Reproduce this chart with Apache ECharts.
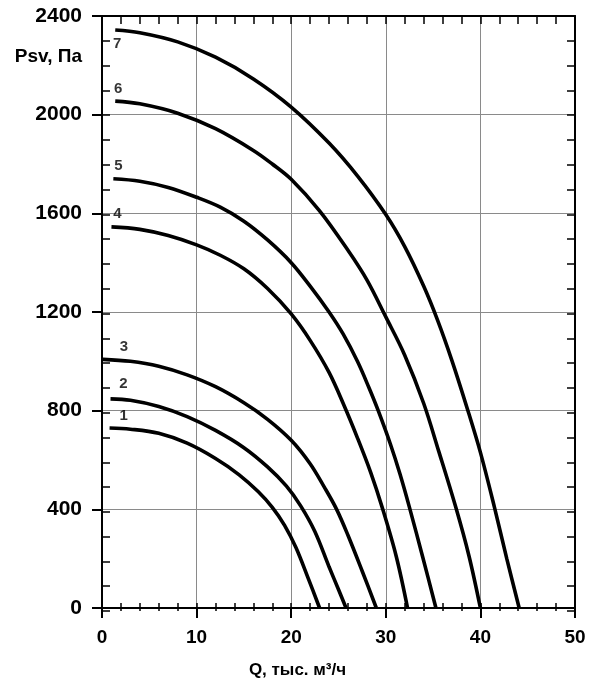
<!DOCTYPE html>
<html>
<head>
<meta charset="utf-8">
<script src="https://cdn.jsdelivr.net/npm/echarts@6/dist/echarts.min.js"></script>
<style>
html,body{margin:0;padding:0;background:#fff;}
#chart{width:603px;height:684px;}
</style>
</head>
<body>
<div id="chart"></div>
<script>
// Curve names
const curveNames = ['1', '2', '3', '4', '5', '6', '7'];
// Q, thousand m3/h  /  Psv, Pa
const curve1 = [[0.8,730],[3,725],[6,708],[9,668],[12,606],[14.5,540],[16.5,472],[18,408],[19.3,335],[20.5,245],[21.8,120],[23,0]];
const curve2 = [[0.9,848],[3,842],[6,817],[9,776],[12,720],[15,650],[17.5,572],[19.5,494],[21,414],[22.5,310],[24,167],[25,75],[25.8,0]];
const curve3 = [[0.1,1008],[3,1000],[6,980],[9,945],[12,897],[15,832],[17.5,765],[20,680],[22,585],[23.5,490],[24.8,400],[26,295],[27.5,150],[29,0]];
const curve4 = [[1.0,1545],[4,1535],[7,1510],[10,1472],[12.5,1430],[15,1375],[17.5,1295],[20,1192],[22,1085],[24,955],[25.6,820],[27,690],[28.4,550],[29.6,410],[31.1,210],[32.3,0]];
const curve5 = [[1.2,1740],[4,1730],[7,1705],[10,1665],[12.5,1625],[15,1568],[17.5,1492],[20,1400],[22,1305],[24,1200],[25.5,1110],[27,1000],[28.2,895],[29.2,800],[30.5,663],[31.5,543],[32.5,408],[33.9,207],[35.3,0]];
const curve6 = [[1.4,2055],[4,2044],[8,2006],[12,1943],[16,1855],[18,1800],[20,1738],[23,1610],[26,1450],[28,1330],[30,1180],[32,1025],[34,830],[35.6,635],[37.4,408],[38.8,210],[40,0]];
const curve7 = [[1.4,2343],[4,2332],[8,2295],[12,2233],[16,2145],[20,2031],[24,1885],[27,1752],[30,1595],[32,1465],[34,1305],[35.5,1164],[37,1002],[38.6,810],[40,631],[41.5,406],[42.8,198],[44.1,0]];
const curves = [curve1, curve2, curve3, curve4, curve5, curve6, curve7];
// Axis ticks
const xTicks = [0, 10, 20, 30, 40, 50];
const yTicks = [0, 400, 800, 1200, 1600, 2000, 2400];
const xTitle = 'Q, тыс. м³/ч';
const yTitle = 'Psv, Па';

// label offsets (style only)
const labelOffsets = [[14,-12],[13,-15],[21,-13],[6,-13],[5,-13],[3,-12],[2,14]];

const chart = echarts.init(document.getElementById('chart'), null, {renderer:'canvas'});
const FONT = '"Liberation Sans", Arial, sans-serif';
const gridBox = {left:102, right:28, top:16, bottom:73};

const black = '#000';
const gridGray = '#8a8a8a';

const option = {
  backgroundColor:'#fff',
  animation:false,
  grid:[Object.assign({containLabel:false}, gridBox), Object.assign({containLabel:false}, gridBox)],
  xAxis:[
    {
      type:'value', gridIndex:0, position:'bottom',
      min:xTicks[0], max:xTicks[xTicks.length-1], interval:xTicks[1]-xTicks[0],
      axisLine:{show:true, onZero:false, lineStyle:{color:black, width:2}},
      axisTick:{show:true, inside:false, length:10, lineStyle:{color:black, width:2}},
      axisLabel:{show:true, margin:20, color:black, fontFamily:FONT, fontWeight:'bold', fontSize:19,
        formatter:(v)=>String(v)},
      splitLine:{show:true, lineStyle:{color:gridGray, width:1}},
      name:xTitle, nameLocation:'middle', nameGap:54,
      nameTextStyle:{color:black, fontFamily:FONT, fontWeight:'bold', fontSize:17, padding:[0,82,0,0]}
    },
    {
      type:'value', gridIndex:1, position:'bottom',
      min:0, max:50, interval:2,
      axisLine:{show:false, onZero:false},
      axisTick:{show:true, inside:true, length:8, lineStyle:{color:black, width:1.5}},
      axisLabel:{show:false}, splitLine:{show:false}
    },
    {
      type:'value', gridIndex:1, position:'top',
      min:0, max:50, interval:2,
      axisLine:{show:true, onZero:false, lineStyle:{color:black, width:2}},
      axisTick:{show:true, inside:true, length:8, lineStyle:{color:black, width:1.5}},
      axisLabel:{show:false}, splitLine:{show:false}
    }
  ],
  yAxis:[
    {
      type:'value', gridIndex:0, position:'left',
      min:yTicks[0], max:yTicks[yTicks.length-1], interval:yTicks[1]-yTicks[0],
      axisLine:{show:true, onZero:false, lineStyle:{color:black, width:2}},
      axisTick:{show:true, inside:false, length:10, lineStyle:{color:black, width:2}},
      axisLabel:{show:true, margin:20, color:black, fontFamily:FONT, fontWeight:'bold', fontSize:21,
        formatter:(v)=>String(v)},
      splitLine:{show:true, lineStyle:{color:gridGray, width:1}},
      name:yTitle, nameLocation:'end', nameGap:-41,
      nameTextStyle:{color:black, fontFamily:FONT, fontWeight:'bold', fontSize:19, align:'right', verticalAlign:'middle', padding:[0,20,0,0]}
    },
    {
      type:'value', gridIndex:1, position:'left',
      min:0, max:2400, interval:100,
      axisLine:{show:false, onZero:false},
      axisTick:{show:true, inside:true, length:8, lineStyle:{color:black, width:1.5}},
      axisLabel:{show:false}, splitLine:{show:false}
    },
    {
      type:'value', gridIndex:1, position:'right',
      min:0, max:2400, interval:100,
      axisLine:{show:true, onZero:false, lineStyle:{color:black, width:2}},
      axisTick:{show:true, inside:true, length:8, lineStyle:{color:black, width:1.5}},
      axisLabel:{show:false}, splitLine:{show:false}
    }
  ],
  series: curves.map((c, i) => ({
    type:'line', name:curveNames[i], xAxisIndex:0, yAxisIndex:0,
    data:c, showSymbol:false, smooth:0.35,
    lineStyle:{color:black, width:3.6, cap:'butt'},
    z:3
  })).concat([{
    type:'scatter', xAxisIndex:0, yAxisIndex:0, symbolSize:0, silent:true, z:4,
    data: curves.map((c, i) => ({
      value:c[0],
      label:{show:true, formatter:curveNames[i], position:'inside', offset:labelOffsets[i],
        color:black, fontFamily:FONT, fontWeight:'bold', fontSize:15}
    }))
  }])
};
chart.setOption(option);
</script>
</body>
</html>
